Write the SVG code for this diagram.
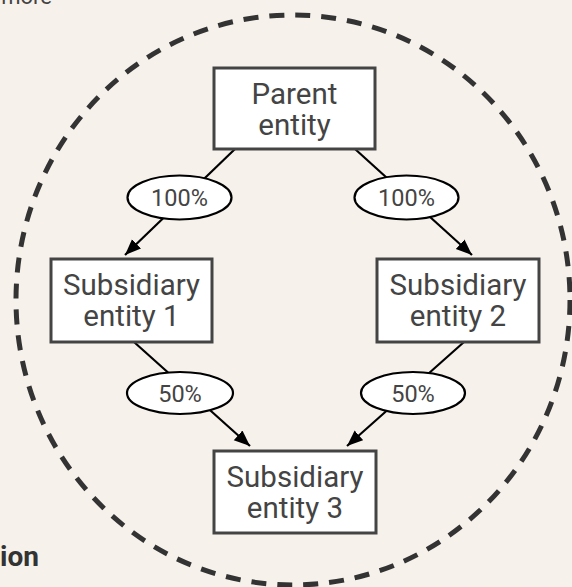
<svg xmlns="http://www.w3.org/2000/svg" width="572" height="587" viewBox="0 0 572 587">
<style>
.bg{fill:#f6f2eb}
.box{fill:#ffffff;stroke:#444444;stroke-width:3}
.lbl{fill:#ffffff;stroke:#000000;stroke-width:2.2}
.t{font-family:Roboto,"Liberation Sans",sans-serif;font-size:29.5px;fill:#444444;text-anchor:middle}
.tl{font-family:Roboto,"Liberation Sans",sans-serif;font-size:23.5px;fill:#444444;text-anchor:middle}
.edge{stroke:#000000;stroke-width:2.2;fill:none}
</style>
<defs>
<marker id="arr" markerUnits="userSpaceOnUse" markerWidth="18" markerHeight="14" refX="16" refY="6.5" orient="auto">
<path d="M0,0 L16,6.5 L0,13 z" fill="#000000"/>
</marker>
</defs>
<rect class="bg" x="0" y="0" width="572" height="587"/>
<text x="52" y="4" font-family="Roboto,'Liberation Sans',sans-serif" font-size="22" fill="#444444" text-anchor="end">more</text>
<text x="39" y="566" font-family="Roboto,'Liberation Sans',sans-serif" font-size="28" font-weight="bold" fill="#333333" text-anchor="end">ion</text>
<ellipse id="boundary" cx="293" cy="300" rx="277" ry="285" fill="none" stroke="#333333" stroke-width="5" stroke-dasharray="15 11"/>
<g id="connectors">
<line class="edge" x1="235" y1="149" x2="125" y2="255" marker-end="url(#arr)"/>
<line class="edge" x1="355" y1="149" x2="472" y2="255" marker-end="url(#arr)"/>
<line class="edge" x1="134" y1="342" x2="250" y2="446" marker-end="url(#arr)"/>
<line class="edge" x1="464" y1="342" x2="347" y2="446" marker-end="url(#arr)"/>
<g id="label-p-s1"><ellipse class="lbl" cx="179.5" cy="197.5" rx="52" ry="22"/><text class="tl" x="179.5" y="206">100%</text></g>
<g id="label-p-s2"><ellipse class="lbl" cx="406.5" cy="197.5" rx="52" ry="22"/><text class="tl" x="406.5" y="206">100%</text></g>
<g id="label-s1-s3"><ellipse class="lbl" cx="180" cy="393" rx="53" ry="21"/><text class="tl" x="180" y="401.5">50%</text></g>
<g id="label-s2-s3"><ellipse class="lbl" cx="413" cy="393" rx="52" ry="21"/><text class="tl" x="413" y="401.5">50%</text></g>
</g>
<g id="parent"><rect class="box" x="214" y="68" width="161" height="81"/><text class="t" x="294.5" y="104">Parent</text><text class="t" x="294.5" y="135">entity</text></g>
<g id="sub1"><rect class="box" x="51" y="259" width="161" height="83"/><text class="t" x="131.5" y="295">Subsidiary</text><text class="t" x="131.5" y="326">entity 1</text></g>
<g id="sub2"><rect class="box" x="377" y="259" width="162" height="83"/><text class="t" x="458" y="295">Subsidiary</text><text class="t" x="458" y="326">entity 2</text></g>
<g id="sub3"><rect class="box" x="214" y="451" width="162" height="82"/><text class="t" x="295" y="487">Subsidiary</text><text class="t" x="295" y="518">entity 3</text></g>
</svg>
